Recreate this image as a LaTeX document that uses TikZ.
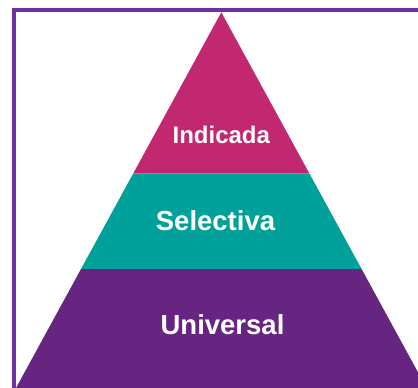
\documentclass[tikz,border=0pt]{standalone}
\usepackage{fontspec}
\setmainfont{Liberation Sans}
\definecolor{bordercol}{HTML}{7030A0}
\definecolor{topcol}{HTML}{C2286F}
\definecolor{midcol}{HTML}{00A19A}
\definecolor{botcol}{HTML}{652581}
\tikzset{
  label24/.style={text=white,font=\bfseries\fontsize{24}{28}\selectfont,anchor=base,inner sep=0pt},
  label27/.style={text=white,font=\bfseries\fontsize{27.5}{32}\selectfont,anchor=base,inner sep=0pt},
}
\begin{document}
\begin{tikzpicture}[x=1pt,y=-1pt]
\useasboundingbox (0,0) rectangle (418,388);
\clip (0,0) rectangle (418,388);
% apex and band corners
\coordinate (apex) at (221.3,12.3);
\coordinate (l1) at (133.3,173.3);
\coordinate (r1) at (309.3,173.3);
\coordinate (l2) at (81,269);
\coordinate (r2) at (361.6,269);
\coordinate (l3) at (16,388);
\coordinate (r3) at (426.6,388);
\fill[topcol] (apex) -- (r1) -- (l1) -- cycle;
\fill[midcol] (l1) -- (r1) -- (r2) -- (l2) -- cycle;
\fill[botcol] (l2) -- (r2) -- (r3) -- (l3) -- cycle;
% border
\draw[bordercol,line width=4pt] (14,10.3) rectangle (460,420);
\node[label24] (ind) at (221.3,143.3) {Indicada};
\node[label27] (sel) at (215.5,230) {Selectiva};
\node[label27] (uni) at (222.5,334.3) {Universal};
\end{tikzpicture}
\end{document}
